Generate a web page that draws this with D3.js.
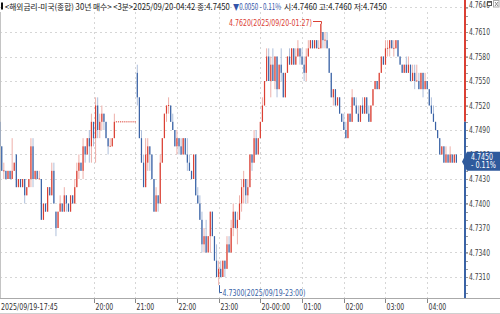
<!DOCTYPE html>
<html><head><meta charset="utf-8">
<script src="https://cdn.jsdelivr.net/npm/d3@7"></script>
<style>html,body{margin:0;padding:0;background:#fff;overflow:hidden}</style>
</head><body><svg id="c" width="500" height="314"></svg>
<script>
// 3-minute bars, 2025/09/19 17:45 -> 2025/09/20 04:42
const opens=[
4.750,4.747,4.744,4.744,4.743,4.744,4.743,4.744,4.746,4.742,4.743,4.742,4.743,4.741,4.742,4.743,4.747,4.743,4.744,4.743,
4.743,4.738,4.740,4.739,4.742,4.741,4.744,4.739,4.737,4.739,4.740,4.739,4.741,4.740,4.739,4.741,4.740,4.742,4.744,4.745,
4.744,4.747,4.746,4.748,4.747,4.750,4.748,4.752,4.749,4.750,4.751,4.750,4.748,4.747,4.747,4.748,4.750,4.750,4.750,4.750,
4.750,4.750,4.750,4.750,4.750,4.750,4.756,4.753,4.748,4.745,4.742,4.745,4.747,4.746,4.743,4.739,4.741,4.740,4.745,4.748,
4.751,4.752,4.752,4.750,4.749,4.747,4.748,4.747,4.746,4.748,4.746,4.745,4.744,4.743,4.746,4.741,4.740,4.738,4.735,4.736,
4.734,4.736,4.739,4.736,4.733,4.731,4.732,4.731,4.733,4.732,4.735,4.734,4.737,4.739,4.737,4.738,4.740,4.742,4.743,4.741,
4.742,4.746,4.745,4.748,4.746,4.748,4.750,4.752,4.755,4.758,4.755,4.757,4.755,4.758,4.754,4.757,4.756,4.753,4.756,4.758,
4.757,4.759,4.757,4.758,4.759,4.758,4.757,4.756,4.758,4.759,4.760,4.759,4.760,4.759,4.759,4.761,4.760,4.760,4.759,4.756,
4.753,4.754,4.752,4.753,4.751,4.750,4.749,4.748,4.751,4.750,4.753,4.752,4.751,4.750,4.752,4.751,4.753,4.751,4.750,4.752,
4.754,4.755,4.754,4.756,4.758,4.757,4.759,4.759,4.760,4.759,4.759,4.760,4.758,4.757,4.756,4.757,4.756,4.757,4.755,4.756,
4.755,4.755,4.754,4.756,4.754,4.755,4.754,4.752,4.751,4.750,4.749,4.748,4.746,4.747,4.745,4.746,4.745,4.746,4.745,4.746];
const highs=[
4.750,4.747,4.745,4.744,4.744,4.744,4.748,4.745,4.746,4.743,4.743,4.743,4.743,4.742,4.743,4.748,4.748,4.744,4.744,4.744,
4.743,4.740,4.740,4.742,4.742,4.745,4.745,4.739,4.739,4.741,4.740,4.742,4.741,4.740,4.741,4.741,4.743,4.745,4.746,4.745,
4.748,4.747,4.748,4.749,4.751,4.750,4.753,4.753,4.751,4.752,4.751,4.750,4.748,4.748,4.748,4.751,4.750,4.750,4.750,4.750,
4.750,4.750,4.750,4.750,4.750,4.750,4.757,4.753,4.749,4.746,4.748,4.748,4.747,4.746,4.743,4.742,4.741,4.746,4.748,4.751,
4.752,4.753,4.752,4.751,4.749,4.749,4.748,4.748,4.748,4.748,4.748,4.746,4.744,4.746,4.746,4.742,4.741,4.739,4.737,4.738,
4.736,4.739,4.739,4.736,4.735,4.733,4.733,4.733,4.733,4.736,4.736,4.738,4.740,4.739,4.739,4.741,4.743,4.744,4.743,4.743,
4.746,4.746,4.749,4.749,4.748,4.750,4.753,4.755,4.759,4.759,4.758,4.759,4.758,4.758,4.757,4.759,4.756,4.756,4.758,4.759,
4.759,4.759,4.759,4.760,4.759,4.759,4.758,4.759,4.760,4.760,4.760,4.760,4.760,4.760,4.762,4.761,4.761,4.761,4.759,4.756,
4.754,4.754,4.753,4.753,4.751,4.751,4.750,4.751,4.751,4.754,4.753,4.753,4.752,4.752,4.753,4.753,4.753,4.752,4.752,4.754,
4.755,4.755,4.756,4.758,4.758,4.760,4.760,4.760,4.760,4.760,4.760,4.760,4.758,4.757,4.757,4.758,4.758,4.757,4.757,4.757,
4.757,4.756,4.756,4.756,4.756,4.755,4.754,4.753,4.752,4.750,4.749,4.748,4.747,4.747,4.747,4.746,4.747,4.746,4.746,4.746];
const lows=[
4.747,4.744,4.743,4.743,4.743,4.743,4.743,4.744,4.742,4.742,4.742,4.742,4.740,4.741,4.742,4.742,4.742,4.743,4.743,4.743,
4.738,4.738,4.739,4.739,4.741,4.741,4.740,4.736,4.737,4.739,4.739,4.739,4.739,4.739,4.739,4.740,4.740,4.742,4.743,4.744,
4.743,4.745,4.746,4.745,4.745,4.747,4.745,4.748,4.748,4.749,4.749,4.748,4.746,4.747,4.747,4.748,4.750,4.750,4.750,4.750,
4.750,4.750,4.750,4.750,4.750,4.750,4.752,4.748,4.745,4.742,4.742,4.744,4.744,4.743,4.739,4.739,4.739,4.740,4.745,4.748,
4.750,4.751,4.750,4.749,4.747,4.746,4.746,4.746,4.746,4.746,4.744,4.744,4.743,4.743,4.741,4.740,4.738,4.734,4.734,4.734,
4.734,4.734,4.736,4.733,4.731,4.730,4.731,4.731,4.731,4.732,4.734,4.734,4.736,4.737,4.735,4.738,4.739,4.740,4.740,4.740,
4.742,4.744,4.745,4.746,4.746,4.748,4.750,4.752,4.755,4.755,4.753,4.755,4.754,4.753,4.754,4.755,4.753,4.753,4.756,4.757,
4.757,4.757,4.757,4.758,4.757,4.757,4.755,4.755,4.758,4.759,4.759,4.759,4.759,4.759,4.759,4.759,4.759,4.759,4.756,4.753,
4.752,4.752,4.752,4.751,4.750,4.749,4.748,4.748,4.750,4.750,4.752,4.751,4.750,4.750,4.751,4.751,4.751,4.750,4.750,4.752,
4.754,4.754,4.754,4.756,4.757,4.757,4.758,4.758,4.759,4.758,4.759,4.758,4.757,4.756,4.756,4.756,4.756,4.755,4.755,4.754,
4.755,4.754,4.754,4.753,4.754,4.754,4.752,4.751,4.750,4.749,4.748,4.746,4.746,4.745,4.745,4.745,4.745,4.745,4.745,4.745];
const closes=[
4.747,4.744,4.744,4.743,4.744,4.743,4.744,4.745,4.742,4.743,4.742,4.743,4.741,4.742,4.743,4.747,4.743,4.744,4.743,4.743,
4.738,4.740,4.739,4.742,4.741,4.744,4.740,4.737,4.739,4.740,4.739,4.741,4.740,4.739,4.741,4.740,4.742,4.744,4.745,4.744,
4.747,4.746,4.748,4.747,4.750,4.748,4.752,4.749,4.750,4.751,4.750,4.748,4.747,4.747,4.748,4.750,4.750,4.750,4.750,4.750,
4.750,4.750,4.750,4.750,4.750,4.750,4.753,4.748,4.745,4.742,4.746,4.747,4.746,4.743,4.739,4.741,4.740,4.745,4.748,4.751,
4.752,4.752,4.750,4.749,4.747,4.748,4.747,4.746,4.748,4.746,4.745,4.744,4.743,4.746,4.741,4.740,4.738,4.735,4.736,4.734,
4.736,4.739,4.736,4.733,4.731,4.732,4.731,4.733,4.732,4.735,4.734,4.737,4.739,4.737,4.738,4.740,4.742,4.743,4.741,4.742,
4.746,4.745,4.748,4.746,4.748,4.750,4.752,4.755,4.758,4.755,4.757,4.755,4.758,4.754,4.757,4.756,4.753,4.756,4.758,4.757,
4.759,4.757,4.758,4.759,4.758,4.757,4.756,4.758,4.759,4.760,4.759,4.760,4.759,4.759,4.762,4.760,4.760,4.759,4.756,4.753,
4.754,4.752,4.753,4.751,4.750,4.749,4.748,4.751,4.750,4.753,4.752,4.751,4.750,4.752,4.751,4.753,4.751,4.750,4.752,4.754,
4.755,4.754,4.756,4.758,4.757,4.759,4.759,4.760,4.759,4.759,4.760,4.758,4.757,4.756,4.757,4.756,4.757,4.755,4.756,4.755,
4.755,4.754,4.756,4.754,4.755,4.754,4.752,4.751,4.750,4.749,4.748,4.746,4.747,4.745,4.746,4.745,4.746,4.745,4.746,4.745];

const yTicks=[4.7640,4.7610,4.7580,4.7550,4.7520,4.7490,4.7460,4.7430,4.7400,4.7370,4.7340,4.7310];
const xTickIdx=[0,45,65,85,105,125,145,165,185,205];
const xTickLabels=["2025/09/19-17:45","20:00","21:00","22:00","23:00","20-00:00","01:00","02:00","03:00","04:00"];
const prevClose=4.7500;
const lastPrice="4.7450", lastPct="- 0.11%";
const hiIdx=154, hiText="4.7620(2025/09/20-01:27)";
const loIdx=105, loText="4.7300(2025/09/19-23:00)";
const headerParts=[
  {t:"<해외금리-미국(종합) 30년 매수> <3분>2025/09/20-04:42 종:4.7450", x0:5, x1:230, c:"#1a1a1a"},
  {t:"▼0.0050 - 0.11%", x0:233, x1:281, c:"#3355aa"},
  {t:"시:4.7460 고:4.7460 저:4.7450", x0:284, x1:387, c:"#1a1a1a"}];

const RED="#db4034", RED_L="#eeb0aa", BLUE="#3a63a6", BLUE_L="#aebfdb";
const W=500,H=314, plotR=463, plotB=298, axisX=465;
const NARROW="'Liberation Sans Narrow','DejaVu Sans Condensed',sans-serif";
const svg=d3.select("#c");
svg.append("rect").attr("width",W).attr("height",H).attr("fill","#fff");

const x=d3.scaleLinear().domain([45,205]).range([93.5,427.2]);
const y=d3.scaleLinear().domain([4.7310,4.7610]).range([277,32]);

svg.append("defs").append("clipPath").attr("id","pc").append("rect")
  .attr("x",0).attr("y",0).attr("width",plotR).attr("height",plotB);

// grid
const g=svg.append("g");
g.selectAll(".hg").data(yTicks).join("line")
  .attr("x1",0).attr("x2",plotR).attr("y1",d=>Math.round(y(d))+0.5).attr("y2",d=>Math.round(y(d))+0.5)
  .attr("stroke","#d6d6d6").attr("stroke-dasharray","2,3");
g.selectAll(".vg").data(xTickIdx.slice(1)).join("line")
  .attr("x1",d=>Math.round(x(d))+0.5).attr("x2",d=>Math.round(x(d))+0.5).attr("y1",12).attr("y2",plotB)
  .attr("stroke","#d6d6d6").attr("stroke-dasharray","2,3");
svg.append("line").attr("x1",0.5).attr("x2",0.5).attr("y1",12).attr("y2",plotB).attr("stroke","#c4c4c4");

// candles
const bars=d3.range(closes.length).map(i=>({i,o:opens[i],h:highs[i],l:lows[i],c:closes[i]}));
const cg=svg.append("g").attr("clip-path","url(#pc)");
const cs=cg.selectAll("g.k").data(bars).join("g");
cs.append("rect")
  .attr("x",d=>x(d.i)-0.5).attr("width",1)
  .attr("y",d=>y(d.h)).attr("height",d=>Math.max(0.01,y(d.l)-y(d.h)))
  .attr("fill",d=>d.c<d.o?BLUE_L:RED_L);
cs.append("rect")
  .attr("x",d=>x(d.i)-0.6).attr("width",1.2)
  .attr("y",d=>d.o===d.c?y(d.c)-0.5:y(Math.max(d.o,d.c)))
  .attr("height",d=>d.o===d.c?1:Math.abs(y(d.o)-y(d.c)))
  .attr("fill",d=>d.c<d.o?BLUE:RED);

// high / low annotations
const hx=x(hiIdx), hy=y(highs[hiIdx]);
svg.append("path").attr("d",`M313,21.5H${Math.round(hx)+0.5}V${hy}`).attr("fill","none").attr("stroke",RED);
svg.append("text").attr("x",229).attr("y",25.5).attr("fill",RED).attr("font-size",8.5)
  .attr("font-family",NARROW).attr("textLength",83).attr("lengthAdjust","spacingAndGlyphs").text(hiText);
const lx=x(loIdx), ly=y(lows[loIdx]);
svg.append("path").attr("d",`M${Math.round(lx)+0.5},${ly}V292.5H222`).attr("fill","none").attr("stroke",BLUE);
svg.append("text").attr("x",222.5).attr("y",296).attr("fill",BLUE).attr("font-size",8.5)
  .attr("font-family",NARROW).attr("textLength",83).attr("lengthAdjust","spacingAndGlyphs").text(loText);

// right axis
const yPrev=y(prevClose);
svg.append("line").attr("x1",axisX).attr("x2",axisX).attr("y1",0).attr("y2",yPrev).attr("stroke",RED).attr("stroke-width",2);
svg.append("line").attr("x1",axisX).attr("x2",axisX).attr("y1",yPrev).attr("y2",plotB).attr("stroke",BLUE).attr("stroke-width",2);
const ax=svg.append("g").attr("transform",`translate(${axisX+1},0)`);
const yAxis=d3.axisRight(y).tickValues(yTicks).tickSize(2).tickFormat(d3.format(".4f")).tickPadding(1);
ax.call(yAxis);
ax.select(".domain").remove();
ax.selectAll(".tick line").attr("stroke","#777");
ax.selectAll(".tick text").attr("font-size",8.5).attr("fill","#444").attr("font-family",NARROW)
  .attr("textLength",21).attr("lengthAdjust","spacingAndGlyphs");
ax.selectAll(".tick").filter(d=>d===4.7640).select("text").attr("dy","0.05em");
const minor=d3.range(4.729,4.7645,0.001);
ax.selectAll(".mn").data(minor).join("line").attr("x1",0).attr("x2",2)
  .attr("y1",d=>Math.round(y(d))+0.5).attr("y2",d=>Math.round(y(d))+0.5).attr("stroke","#999");

// last price box
const yl=y(+lastPrice);
svg.append("path").attr("d",`M462,${yl-1}L467,${yl-11}H500V${yl+8}H467Z`).attr("fill","#2f5a9c");
svg.append("text").attr("x",471).attr("y",yl-3).attr("fill","#fff").attr("font-size",8.5)
  .attr("font-family",NARROW).attr("textLength",22).attr("lengthAdjust","spacingAndGlyphs").text(lastPrice);
svg.append("text").attr("x",471).attr("y",yl+5.5).attr("fill","#fff").attr("font-size",8.5)
  .attr("font-family",NARROW).attr("textLength",25).attr("lengthAdjust","spacingAndGlyphs").text(lastPct);

// window icons
svg.append("rect").attr("x",487.5).attr("y",1.5).attr("width",4).attr("height",4).attr("fill","#fff").attr("stroke","#555");
svg.append("rect").attr("x",487.5).attr("y",1.5).attr("width",4).attr("height",1.2).attr("fill","#555");
svg.append("rect").attr("x",493.5).attr("y",0.5).attr("width",5.5).attr("height",6.5).attr("fill","#fff").attr("stroke","#aaa");
svg.append("path").attr("d","M495,2L498,6M498,2L495,6").attr("stroke","#888");

// bottom axis
svg.append("line").attr("x1",0).attr("x2",W).attr("y1",plotB+0.5).attr("y2",plotB+0.5).attr("stroke","#aaa");
svg.append("line").attr("x1",0).attr("x2",W).attr("y1",313.5).attr("y2",313.5).attr("stroke","#d0d0d0");
const bx=svg.append("g");
const xt=xTickIdx.map((d,k)=>({d,k}));
bx.selectAll(".xt").data(xt.slice(1)).join("line")
  .attr("x1",d=>Math.round(x(d.d))+0.5).attr("x2",d=>Math.round(x(d.d))+0.5)
  .attr("y1",plotB+1).attr("y2",plotB+5).attr("stroke","#888");
bx.selectAll(".xl").data(xt).join("text")
  .attr("x",d=>d.k===0?1:Math.round(x(d.d))+1.5).attr("y",309.5)
  .attr("font-size",8.5).attr("fill","#333").attr("font-family",NARROW)
  .attr("textLength",d=>xTickLabels[d.k].length*3.55).attr("lengthAdjust","spacingAndGlyphs")
  .text(d=>xTickLabels[d.k]);

// header
svg.append("rect").attr("x",1).attr("y",2.5).attr("width",2).attr("height",7).attr("fill","#111");
headerParts.forEach(p=>{
  const t=svg.append("text").attr("font-size",8.5).attr("font-family","'Noto Sans CJK KR',sans-serif")
    .attr("fill",p.c).text(p.t);
  const w=t.node().getComputedTextLength();
  t.attr("transform",`translate(${p.x0},10) scale(${(p.x1-p.x0)/w},1)`);
});
</script></body></html>
